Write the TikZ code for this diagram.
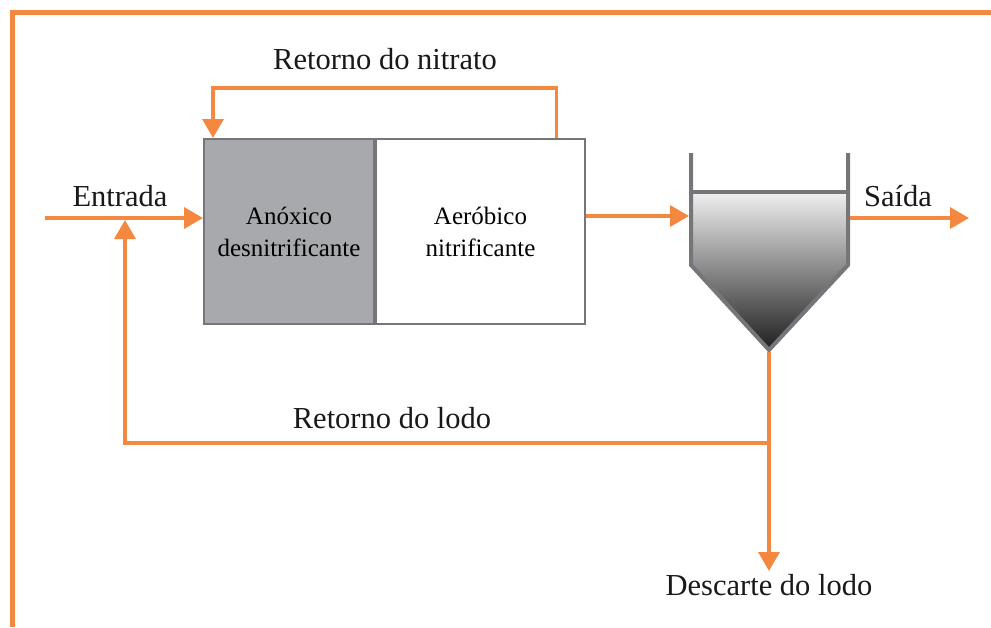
\documentclass[tikz,border=0pt]{standalone}
\usepackage{fontspec}
\setmainfont{Liberation Serif}
\usetikzlibrary{arrows.meta, calc}
\definecolor{laranja}{RGB}{245,136,64}
\definecolor{cinza}{RGB}{118,118,122}
\definecolor{cinzaclaro}{RGB}{168,169,172}
\tikzset{
    fluxo/.style={draw=laranja, line width=3.5pt, -{Triangle[width=21pt,length=19pt]}},
    tanque/.style={draw=cinza, line width=2pt, minimum height=185pt, align=center,
        font=\fontsize{25}{32}\selectfont},
    rotulo/.style={font=\fontsize{30.5}{34}\selectfont, text=black!90}
}

\begin{document}
\begin{tikzpicture}[x=1pt, y=-1pt]
                    \useasboundingbox (0,0) rectangle (991,627);
                    \draw[laranja, line width=5pt] (12,627) -- (12,12) -- (991,12);
                    % tanques
                    \node[tanque, fill=cinzaclaro, minimum width=170pt] (anox) at (289,231.5) {Anóxico\\desnitrificante};
                    \node[tanque, fill=white, minimum width=209pt] (aerob) at (480.5,231.5) {Aeróbico\\nitrificante};
                    % decantador
                    \fill[top color=black!6, middle color=black!38, bottom color=black!88] (691,192) -- (848,192) -- (848,265) -- (769,350) -- (691,265) -- cycle;
                    \draw[cinza, line width=4pt] (691,153) -- (691,265) -- (769,350) -- (848,265) -- (848,153);
                    \draw[cinza, line width=4pt] (691,192) -- (848,192);
                    \coordinate (ini) at (45,218);
                    \coordinate (decin) at (689,216);
                    \coordinate (decout) at (850,218);
                    \coordinate (fundo) at (769,352);
                    \coordinate (juncao) at (769,443);
                    \coordinate (retorno) at (125,220);
                    \coordinate (fim) at (769,571);
                    \coordinate (saidafim) at (969,218);
                    % rotulos
                    \node[rotulo] (entrada) at (120,196) {Entrada};
                    \node[rotulo] (nitrato) at (385,59) {Retorno do nitrato};
                    \node[rotulo] (lodo) at (392,418) {Retorno do lodo};
                    \node[rotulo] (saida) at (898,196) {Saída};
                    \node[rotulo] (descarte) at (769,585) {Descarte do lodo};
                    % fluxos
                    \draw[fluxo] (ini) -- (anox.west |- ini);
                    \draw[fluxo] ([xshift=76pt]aerob.north) -- ++(0,-50) -| ([xshift=10pt]anox.north west);
                    \draw[fluxo] (aerob.east |- decin) -- (decin);
                    \draw[fluxo] (decout) -- (saidafim);
                    \draw[fluxo] (fundo) -- (fim);
                    \draw[fluxo] (juncao) -| (retorno);
                \end{tikzpicture}
\end{document}
